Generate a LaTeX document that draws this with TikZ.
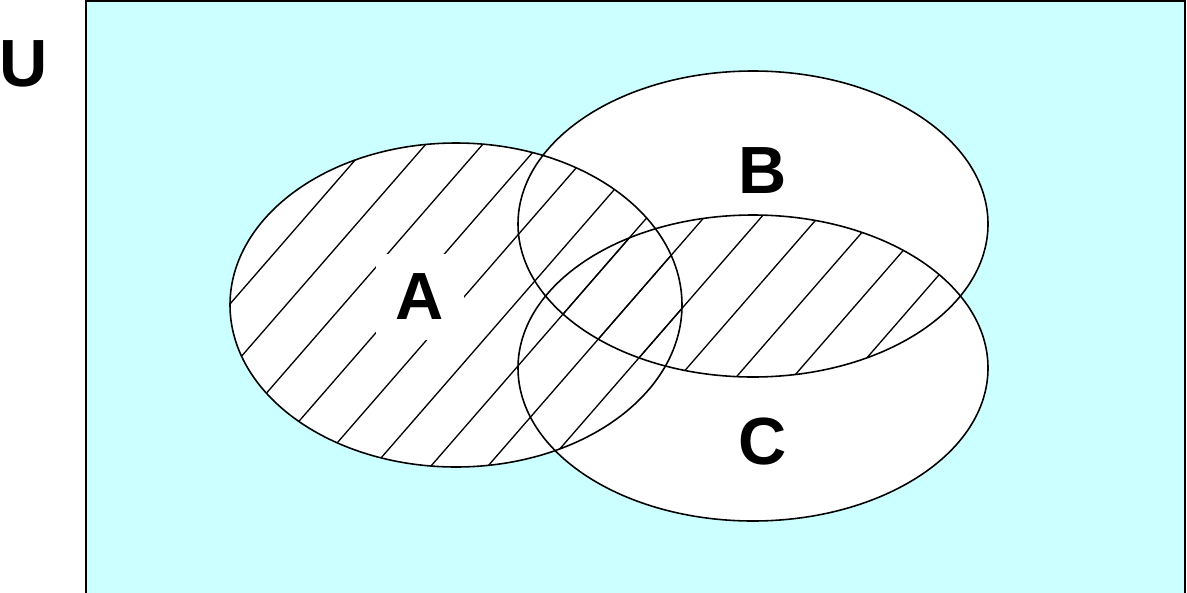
\documentclass[tikz,border=0pt]{standalone}
\usepackage{fontspec}
\setmainfont{Liberation Sans}
\definecolor{ubg}{HTML}{CCFFFF}
\tikzset{
  setedge/.style={draw=black, line width=0.9pt},
  hatchline/.style={draw=black, line width=0.75pt},
  setlabel/.style={font=\fontsize{38}{40}\selectfont\bfseries, inner sep=0pt},
}
\begin{document}
\begin{tikzpicture}[x=0.02cm, y=-0.02cm]
\useasboundingbox (0,0) rectangle (1187,592);
% universe
\path[fill=ubg, draw=black, line width=1.3pt] (86,1) rectangle (1185,620);
\node[setlabel] (U) at (24,64) {U};
% sets
\coordinate (cA) at (456,305);
\coordinate (cB) at (753,224);
\coordinate (cC) at (753,368);
\fill[white] (cA) ellipse [x radius=226, y radius=162];
\fill[white] (cB) ellipse [x radius=235, y radius=153];
\fill[white] (cC) ellipse [x radius=235, y radius=153];
% hatching of A
\begin{scope}
  \clip (cA) ellipse [x radius=226, y radius=162];
  \foreach \c in {373,416,...,900}
    \draw[hatchline] ({\c*sin(49)-700*cos(49)},{\c*cos(49)+700*sin(49)}) -- ({\c*sin(49)+700*cos(49)},{\c*cos(49)-700*sin(49)});
\end{scope}
% hatching of B and C
\begin{scope}
  \clip (cB) ellipse [x radius=235, y radius=153];
  \clip (cC) ellipse [x radius=235, y radius=153];
  \foreach \c in {373,416,...,900}
    \draw[hatchline] ({\c*sin(49)-900*cos(49)},{\c*cos(49)+900*sin(49)}) -- ({\c*sin(49)+900*cos(49)},{\c*cos(49)-900*sin(49)});
\end{scope}
% outlines
\draw[setedge] (cA) ellipse [x radius=226, y radius=162];
\draw[setedge] (cB) ellipse [x radius=235, y radius=153];
\draw[setedge] (cC) ellipse [x radius=235, y radius=153];
% labels
\node[setlabel, fill=white, inner sep=0.4cm] (A) at (420,297) {A};
\node[setlabel] (B) at (763,171) {B};
\node[setlabel] (C) at (763,442) {C};
\end{tikzpicture}
\end{document}
